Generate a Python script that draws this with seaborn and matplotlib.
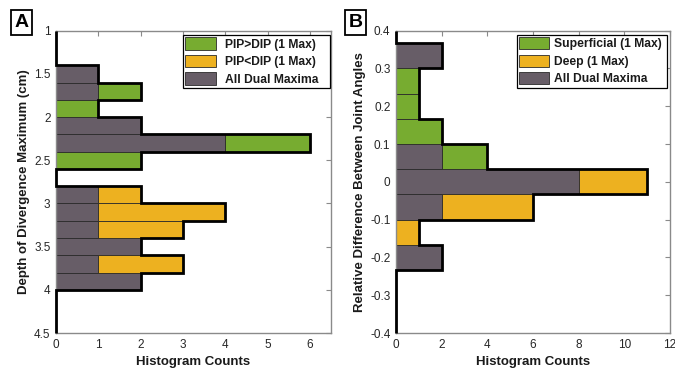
import numpy as np
import pandas as pd
import matplotlib
matplotlib.use("Agg")
import matplotlib.pyplot as plt
from matplotlib.patches import Patch
import seaborn as sns

# ---------------- data ----------------
# Panel A: depth of divergence maximum (cm), bin centres (width 0.2)
A_centers = [1.5, 1.7, 1.9, 2.1, 2.3, 2.5, 2.7, 2.9, 3.1, 3.3, 3.5, 3.7, 3.9]
A_green = [0, 1, 1, 0, 2, 2, 0, 0, 0, 0, 0, 0, 0]   # PIP>DIP (1 Max)
A_yellow = [0, 0, 0, 0, 0, 0, 0, 1, 3, 2, 0, 2, 0]  # PIP<DIP (1 Max)
A_gray = [1, 1, 0, 2, 4, 0, 0, 1, 1, 1, 2, 1, 2]    # All Dual Maxima
A_binwidth = 0.2
A_labels = ["PIP>DIP (1 Max)", "PIP<DIP (1 Max)", "All Dual Maxima"]
A_yticks = [1, 1.5, 2, 2.5, 3, 3.5, 4, 4.5]
A_yticklabels = ["1", "1.5", "2", "2.5", "3", "3.5", "4", "4.5"]
A_xticks = [0, 1, 2, 3, 4, 5, 6]

# Panel B: relative difference between joint angles, bin centres (width 1/15)
B_centers = [5 / 15, 4 / 15, 3 / 15, 2 / 15, 1 / 15, 0.0, -1 / 15, -2 / 15, -3 / 15]
B_green = [0, 1, 1, 2, 2, 0, 0, 0, 0]   # Superficial (1 Max)
B_yellow = [0, 0, 0, 0, 0, 3, 4, 1, 0]  # Deep (1 Max)
B_gray = [2, 0, 0, 0, 2, 8, 2, 0, 2]    # All Dual Maxima
B_binwidth = 1 / 15
B_labels = ["Superficial (1 Max)", "Deep (1 Max)", "All Dual Maxima"]
B_yticks = [0.4, 0.3, 0.2, 0.1, 0, -0.1, -0.2, -0.3, -0.4]
B_yticklabels = ["0.4", "0.3", "0.2", "0.1", "0", "-0.1", "-0.2", "-0.3", "-0.4"]
B_xticks = [0, 2, 4, 6, 8, 10, 12]

# ---------------- style ----------------
GREEN = "#77AC30"
YELLOW = "#EDB120"
GRAY = "#675D67"
SPINE = "#8a8a8a"

sns.set_theme(style="white")
plt.rcParams["font.family"] = ["Liberation Sans", "DejaVu Sans"]
plt.rcParams["axes.unicode_minus"] = False

fig = plt.figure(figsize=(6.75, 3.72), dpi=100)
W, H = 675, 372
axA = fig.add_axes([56 / W, 1 - 333 / H, 275 / W, (333 - 30.7) / H])
axB = fig.add_axes([396 / W, 1 - 333 / H, 274 / W, (333 - 30.7) / H])


def panel(ax, centers, green, yellow, gray, bw, labels, ylim, xlim,
          yticks, yticklabels, xticks, ylabel, leg_box, textpad):
    centers = np.asarray(centers, float)
    lo = centers.min() - bw / 2
    edges = lo + bw * np.arange(len(centers) + 1)
    df = pd.DataFrame({
        "val": np.concatenate([centers] * 3),
        "w": np.concatenate([green, yellow, gray]).astype(float),
        "grp": np.repeat(labels, len(centers)),
    })
    df = df[df["w"] > 0].reset_index(drop=True)
    sns.histplot(data=df, y="val", weights="w", hue="grp",
                 hue_order=labels, palette=[GREEN, YELLOW, GRAY],
                 multiple="stack", bins=[float(e) for e in edges], alpha=1,
                 edgecolor="#2a2a2a", linewidth=0.6, legend=False, ax=ax)
    # thick outline of the total histogram, padded with zeros to the axis limits
    total = np.asarray(green) + np.asarray(yellow) + np.asarray(gray)
    order = np.argsort(centers)
    tot_sorted = total[order]
    ymin, ymax = min(ylim), max(ylim)
    e_pad = np.concatenate([[ymin], edges, [ymax]])
    t_pad = np.concatenate([[0], tot_sorted, [0]])
    ax.stairs(t_pad, e_pad, orientation="horizontal", baseline=0,
              fill=False, color="black", linewidth=2.0, clip_on=False, zorder=5)

    ax.set_ylim(*ylim)
    ax.set_xlim(*xlim)
    ax.set_yticks(yticks)
    ax.set_yticklabels(yticklabels)
    ax.set_xticks(xticks)
    ax.set_xticklabels([str(t) for t in xticks])
    ax.tick_params(direction="in", top=True, right=True, length=3.5,
                   width=0.8, color=SPINE, labelsize=8.5, labelcolor="#262626",
                   pad=4)
    for s in ax.spines.values():
        s.set_color(SPINE)
        s.set_linewidth(1.0)
    ax.set_xlabel("Histogram Counts", fontsize=9.5, fontweight="bold",
                  color="#1a1a1a", labelpad=4)
    ax.set_ylabel(ylabel, fontsize=9.5, fontweight="bold", color="#1a1a1a",
                  labelpad=3)
    handles = [Patch(facecolor=c, edgecolor="#2a2a2a", linewidth=0.6)
               for c in (GREEN, YELLOW, GRAY)]
    leg = ax.legend(handles, labels, loc="upper left", bbox_to_anchor=leg_box,
                    mode="expand", borderaxespad=0, fancybox=False,
                    framealpha=1, edgecolor="black", handlelength=2.5,
                    handleheight=1.2, labelspacing=0.35, handletextpad=textpad,
                    borderpad=0.2,
                    prop={"weight": "bold", "size": 8.7})
    leg.get_frame().set_linewidth(0.9)
    for t in leg.get_texts():
        t.set_color("#1a1a1a")


panel(axA, A_centers, A_green, A_yellow, A_gray, A_binwidth, A_labels,
      (4.5, 1.0), (0, 6.5), A_yticks, A_yticklabels, A_xticks,
      "Depth of Divergence Maximum (cm)", (0.462, 0.5, 0.535, 0.486), 0.75)
panel(axB, B_centers, B_green, B_yellow, B_gray, B_binwidth, B_labels,
      (-0.4, 0.4), (0, 12), B_yticks, B_yticklabels, B_xticks,
      "Relative Difference Between Joint Angles", (0.44, 0.5, 0.548, 0.487), 0.4)

for x, lab in ((21.5, "A"), (355.5, "B")):
    fig.text(x / W, 1 - 22.5 / H, lab, ha="center", va="center",
             fontsize=14, fontweight="bold", color="black",
             bbox=dict(boxstyle="square,pad=0.2", facecolor="white",
                       edgecolor="black", linewidth=1.3))

fig.savefig("out.png", dpi=100)
